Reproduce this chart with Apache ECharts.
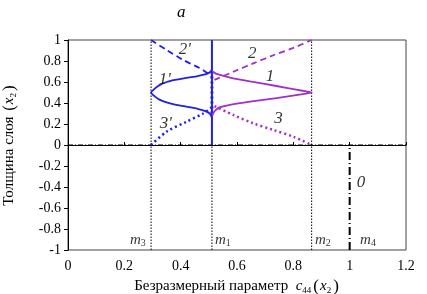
<!DOCTYPE html>
<html>
<head>
<meta charset="utf-8">
<script src="https://cdn.jsdelivr.net/npm/echarts@6/dist/echarts.min.js"></script>
<style>
  html, body { margin: 0; padding: 0; background: #fff; }
  #chart { width: 427px; height: 294px; }
</style>
</head>
<body>
<div id="chart"></div>
<script>
// boundary values m3, m1, m2, m4
const m3 = 0.295, m1 = 0.511, m2 = 0.865, m4 = 1.0

// curve 1 (purple solid) and 1' (blue solid), [c44, x2]
const curve1 = [[0.511, 0.71], [0.516, 0.695], [0.525, 0.68], [0.54, 0.667], [0.575, 0.642], [0.646, 0.606], [0.74, 0.562],
    [0.81, 0.528], [0.845, 0.51], [0.865, 0.5], [0.845, 0.49], [0.81, 0.475], [0.74, 0.446],
    [0.646, 0.413], [0.575, 0.383], [0.54, 0.36], [0.525, 0.335], [0.516, 0.305], [0.511, 0.27]]
const curve1p = [[0.511, 0.72], [0.505, 0.695], [0.49, 0.675], [0.46, 0.657], [0.42, 0.64], [0.38, 0.62], [0.35, 0.6],
    [0.325, 0.57], [0.307, 0.535], [0.295, 0.5], [0.307, 0.465], [0.325, 0.432], [0.35, 0.405], [0.38, 0.385], [0.42, 0.365],
    [0.46, 0.345], [0.49, 0.32], [0.505, 0.295], [0.511, 0.26]]
// curve 2 (purple dashed) and 2' (blue dashed)
const curve2 = [[0.52, 0.62], [0.587, 0.698], [0.658, 0.778], [0.729, 0.855], [0.80, 0.925], [0.865, 1.0]]
const curve2p = [[0.295, 1.0], [0.35, 0.905], [0.409, 0.81], [0.469, 0.73], [0.50, 0.675], [0.511, 0.645]]
// curve 3 (purple dotted) and 3' (blue dotted)
const curve3 = [[0.52, 0.37], [0.587, 0.286], [0.658, 0.206], [0.729, 0.143], [0.80, 0.079], [0.865, 0.0]]
const curve3p = [[0.295, 0.0], [0.35, 0.127], [0.421, 0.222], [0.48, 0.30], [0.511, 0.36]]

// curve labels
const curveLabels = ["1'", "2'", "3'", '1', '2', '3', '0']
const curveLabelPos = [[0.344, 0.62], [0.415, 0.905], [0.347, 0.207], [0.717, 0.65], [0.654, 0.873], [0.747, 0.248], [1.04, -0.362]]
// boundary labels
const mLabels = ['{i|m}{s|3}', '{i|m}{s|1}', '{i|m}{s|2}', '{i|m}{s|4}']
const mLabelPos = [[0.248, -0.905], [0.55, -0.905], [0.905, -0.905], [1.065, -0.905]]

const blue = '#1f1fe6'
const purple = '#a12ecb'
const serif = 'Liberation Serif'

const chart = echarts.init(document.getElementById('chart'))

const vline = (x, y0, y1, style) => ({
    type: 'line', data: [[x, y0], [x, y1]], symbol: 'none', silent: true,
    lineStyle: style, z: 2
})

const nameRich = {
    i: {fontFamily: serif, fontStyle: 'italic', fontSize: 15, color: '#000'},
    s: {fontFamily: serif, fontSize: 9, color: '#000', verticalAlign: 'bottom', padding: [6, 0, 0, 0]},
    n: {fontFamily: serif, fontSize: 17, color: '#000', padding: [0, 1, 0, 2]}
}

const option = {
    animation: false,
    title: {
        text: 'a', left: 172, top: -1,
        textStyle: {fontFamily: serif, fontStyle: 'italic', fontWeight: 'normal', fontSize: 17, color: '#000'}
    },
    grid: {
        left: 68, right: 21, top: 40, bottom: 44, outerBoundsMode: 'none', containLabel: false,
        show: true, borderColor: '#444', borderWidth: 1
    },
    xAxis: {
        type: 'value', min: 0, max: 1.2, interval: 0.2,
        axisLine: {lineStyle: {color: '#000'}},
        axisTick: {inside: true, length: 3, lineStyle: {color: '#000'}},
        splitLine: {show: false},
        axisLabel: {color: '#000', fontFamily: serif, fontSize: 14, margin: 9},
        name: 'Безразмерный параметр  {i|c}{s|44}{n|(}{i|x}{s|2}{n|)}',
        nameLocation: 'middle', nameGap: 28,
        nameTextStyle: {color: '#000', fontFamily: serif, fontSize: 15, rich: nameRich}
    },
    yAxis: {
        type: 'value', min: -1, max: 1, interval: 0.2,
        axisLine: {lineStyle: {color: '#000'}},
        axisTick: {length: 4, lineStyle: {color: '#000'}},
        splitLine: {show: false},
        axisLabel: {color: '#000', fontFamily: serif, fontSize: 14, margin: 7},
        name: 'Толщина слоя {n|(}{i|x}{s|2}{n|)}',
        nameLocation: 'middle', nameGap: 50, nameRotate: 90,
        nameTextStyle: {color: '#000', fontFamily: serif, fontSize: 15, rich: nameRich}
    },
    series: [
        // reference lines
        {
            type: 'line', data: [[0, 0], [1.2, 0]], symbol: 'none', silent: true, z: 1,
            lineStyle: {color: '#000', width: 1, type: [5, 2, 1, 2]}
        },
        vline(m3, -1, 1, {color: '#000', width: 1, type: [1.5, 1.5]}),
        vline(m1, -1, 0, {color: '#000', width: 1, type: [1.5, 1.5]}),
        vline(m2, -1, 1, {color: '#000', width: 1, type: [1.5, 1.5]}),
        vline(m4, -1, 0, {color: '#000', width: 2, type: [8, 3, 1, 3]}),
        vline(m1, 0, 1, {color: blue, width: 2, type: 'solid'}),
        vline(m1, 0.3, 0.7, {color: blue, width: 3, type: [2, 3]}),
        // curves
        {type: 'line', data: curve1, symbol: 'none', smooth: 0.2, lineStyle: {color: purple, width: 1.8}, z: 3},
        {type: 'line', data: curve1p, symbol: 'none', smooth: 0.2, lineStyle: {color: blue, width: 1.8}, z: 3},
        {type: 'line', data: curve2, symbol: 'none', smooth: 0.3, lineStyle: {color: purple, width: 1.8, type: [6, 4]}, z: 3},
        {type: 'line', data: curve2p, symbol: 'none', smooth: 0.3, lineStyle: {color: blue, width: 1.8, type: [6, 4]}, z: 3},
        {type: 'line', data: curve3, symbol: 'none', smooth: 0.3, lineStyle: {color: purple, width: 2.5, type: [2, 3]}, z: 3},
        {type: 'line', data: curve3p, symbol: 'none', smooth: 0.3, lineStyle: {color: blue, width: 2.5, type: [2, 3]}, z: 3},
        // labels
        {
            type: 'scatter', symbolSize: 0, silent: true, z: 5,
            data: curveLabelPos.map((p, i) => ({value: p, name: curveLabels[i]})),
            label: {
                show: true, position: 'inside', formatter: p => p.name,
                fontFamily: serif, fontStyle: 'italic', fontSize: 17, color: '#000'
            }
        },
        {
            type: 'scatter', symbolSize: 0, silent: true, z: 5,
            data: mLabelPos.map((p, i) => ({value: p, name: mLabels[i]})),
            label: {
                show: true, position: 'inside', formatter: p => p.name,
                rich: {
                    i: {fontFamily: serif, fontStyle: 'italic', fontSize: 15, color: '#000'},
                    s: {fontFamily: serif, fontSize: 10, color: '#000', verticalAlign: 'bottom', padding: [6, 0, 0, 0]}
                }
            }
        }
    ]
}

chart.setOption(option)
</script>
</body>
</html>
